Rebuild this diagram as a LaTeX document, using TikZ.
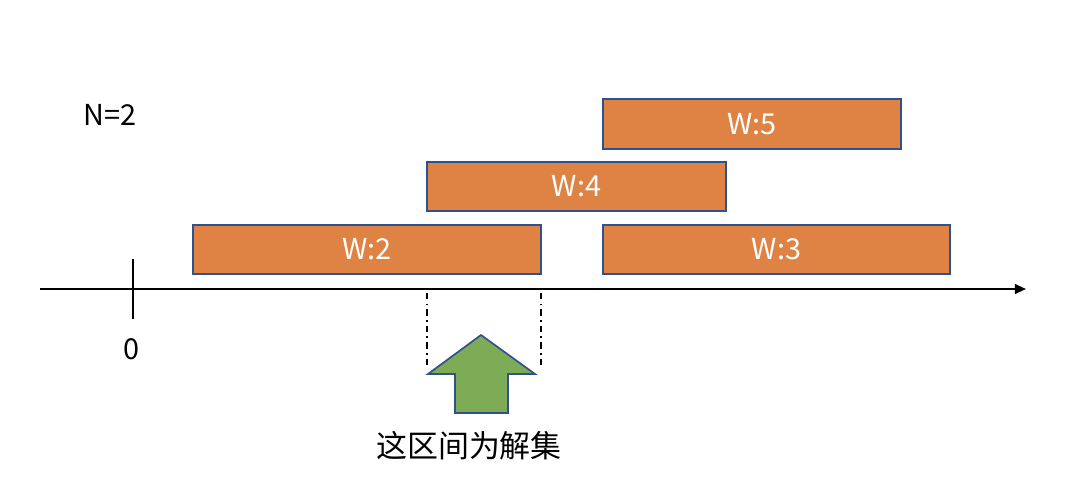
\documentclass[tikz,border=0pt]{standalone}
\usepackage{fontspec}
\setmainfont{Noto Sans CJK SC}
\usetikzlibrary{arrows.meta}
\definecolor{barfill}{RGB}{223,131,68}
\definecolor{barline}{RGB}{47,82,143}
\definecolor{arrowfill}{RGB}{126,171,85}
\tikzset{
  bar/.style={fill=barfill,draw=barline,line width=1.2pt},
  barlabel/.style={text=white,font=\fontsize{20.5}{24}\selectfont},
  bound/.style={line width=1.4pt,dash pattern=on 4.5pt off 3pt on 1.2pt off 3pt}
}
\begin{document}
\begin{tikzpicture}[x=0.025cm,y=-0.025cm]
\useasboundingbox (0,0) rectangle (1092,480);
\draw (110,115) node[name=n,font=\fontsize{20.5}{24}\selectfont]{N=2};
% intervals
\draw[bar] (603,99) rectangle node[barlabel,name=w5]{W:5} (901,149);
\draw[bar] (427,162) rectangle node[barlabel,name=w4]{W:4} (726,211);
\draw[bar] (193,225) rectangle node[barlabel,name=w2]{W:2} (541,274);
\draw[bar] (603,225) rectangle node[barlabel,name=w3]{W:3} (950,274);
% axis
\coordinate (axl) at (40,289);
\coordinate (axr) at (1026,289);
\draw[line width=1.4pt,-{Triangle[length=8pt,width=7pt]}] (axl) -- (axr);
\draw[line width=1.4pt] (133,259) -- (133,319);
\draw (131,349) node[name=zero,font=\fontsize{20.5}{24}\selectfont]{0};
% answer interval
\draw[bound] (427,293) -- (427,368);
\draw[bound] (541,293) -- (541,368);
\draw[fill=arrowfill,draw=barline,line width=1.2pt] (481,335)--(535,374)--(508,374)--(508,413)--(455,413)--(455,374)--(428,374)--cycle;
\draw (469,446) node[name=ans,font=\fontsize{22}{26}\selectfont]{这区间为解集};
\end{tikzpicture}
\end{document}
